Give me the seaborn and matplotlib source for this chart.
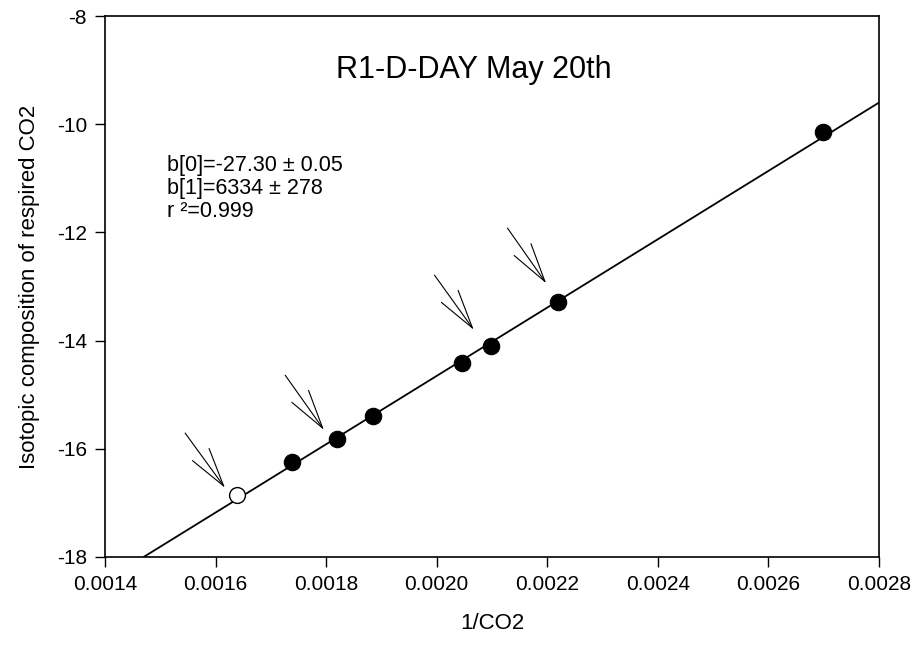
import matplotlib
matplotlib.use("Agg")
import matplotlib.pyplot as plt
import seaborn as sns
import pandas as pd

# ---- data ----
inv_co2 = [0.001739, 0.001819, 0.001885, 0.002046, 0.002099, 0.002220, 0.002698]
delta_resp = [-16.24, -15.81, -15.39, -14.42, -14.10, -13.28, -10.15]
open_x = [0.001638]
open_y = [-16.86]
fit_x = [0.00147, 0.0028]
fit_y = [-18.0, -9.60]
arrow_tip_x = [0.001617, 0.001796, 0.002067, 0.002198]
arrow_tip_y = [-16.72, -15.65, -13.80, -12.94]
arrow_tail_x = [0.001545, 0.001726, 0.001996, 0.002128]
arrow_tail_y = [-15.71, -14.64, -12.79, -11.92]
x_ticks = [0.0014, 0.0016, 0.0018, 0.0020, 0.0022, 0.0024, 0.0026, 0.0028]
y_ticks = [-18, -16, -14, -12, -10, -8]
title = "R1-D-DAY May 20th"
stats_text = "b[0]=-27.30 \u00b1 0.05\nb[1]=6334 \u00b1 278\nr \u00b2=0.999"

sns.set_theme(style="ticks")
plt.rcParams['font.family'] = ['Liberation Sans', 'DejaVu Sans']
plt.rcParams['text.color'] = 'black'
plt.rcParams['axes.labelcolor'] = 'black'

fig = plt.figure(figsize=(9.12, 6.49), dpi=100)
ax = fig.add_axes([0.1151, 0.1418, 0.9638 - 0.1151, 0.9753 - 0.1418])

df_fit = pd.DataFrame({"x": fit_x, "y": fit_y})
sns.lineplot(data=df_fit, x="x", y="y", ax=ax, color="black", linewidth=1.3, zorder=2)

df = pd.DataFrame({"x": inv_co2, "y": delta_resp})
sns.scatterplot(data=df, x="x", y="y", ax=ax, color="black", s=140,
                edgecolor="black", linewidth=0.8, zorder=3)
df_open = pd.DataFrame({"x": open_x, "y": open_y})
sns.scatterplot(data=df_open, x="x", y="y", ax=ax, facecolor="white", s=130,
                edgecolor="black", linewidth=1.0, zorder=3)

for tx, ty, sx, sy in zip(arrow_tip_x, arrow_tip_y, arrow_tail_x, arrow_tail_y):
    ax.annotate("", xy=(tx, ty), xytext=(sx, sy),
                arrowprops=dict(arrowstyle="->,head_length=2.8,head_width=0.74",
                                color="black", lw=0.8, shrinkA=0, shrinkB=0,
                                mutation_scale=10))

ax.set_xlim(0.0014, 0.0028)
ax.set_ylim(-18, -8)
ax.set_xticks(x_ticks)
ax.set_xticklabels([f"{v:.4f}" for v in x_ticks])
ax.set_yticks(y_ticks)
ax.set_yticklabels([f"{v:d}" for v in y_ticks])
ax.tick_params(axis="both", direction="out", length=7, width=1.0,
               labelsize=15, colors="black", pad=6)
for sp in ax.spines.values():
    sp.set_visible(True)
    sp.set_linewidth(1.2)
    sp.set_color("black")

ax.set_xlabel("1/CO2", fontsize=16, labelpad=14)
ax.set_ylabel("Isotopic composition of respired CO2", fontsize=16, labelpad=12)

ax.text(0.476, 0.90, title, transform=ax.transAxes, ha="center", va="center",
        fontsize=22)
ax.text(0.0797, 0.744, stats_text, transform=ax.transAxes, ha="left", va="top",
        fontsize=15.5, linespacing=1.15)

fig.savefig("out.png", dpi=100, facecolor="white")
